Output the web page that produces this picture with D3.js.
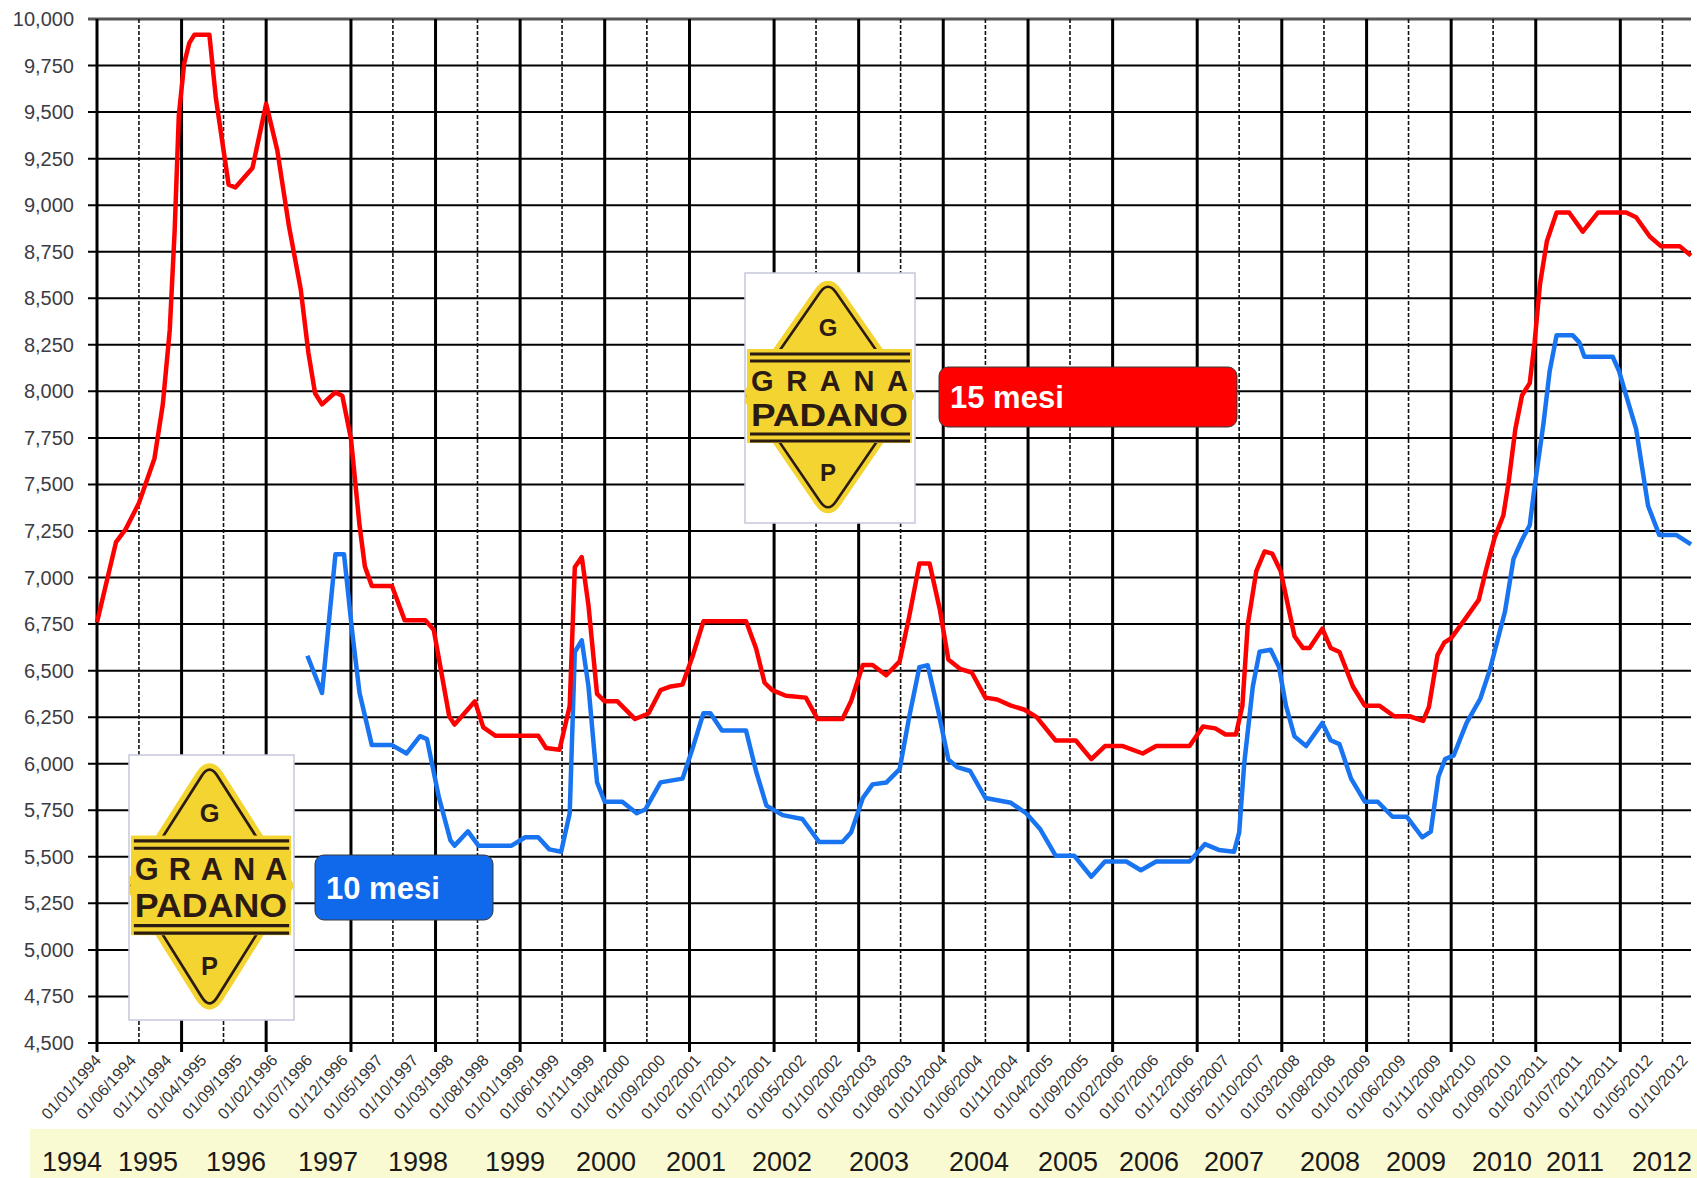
<!DOCTYPE html>
<html>
<head>
<meta charset="utf-8">
<script src="https://cdn.jsdelivr.net/npm/d3@7"></script>
<style>
  body { margin: 0; background: #fff; }
  svg { display: block; font-family: Arial, "Liberation Sans", sans-serif; }
</style>
</head>
<body>
<svg id="chart" width="1697" height="1178"></svg>
<script>
// prezzi Grana Padano, 15 mesi (rosso)
var redDates = ["1994-01-01","1994-03-24","1994-05-05","1994-07-01","1994-09-06","1994-10-12","1994-11-11","1994-12-02","1994-12-20",
  "1995-01-12","1995-02-03","1995-02-25","1995-05-01","1995-05-29","1995-07-23","1995-08-21","1995-11-03",
  "1996-01-01","1996-02-18","1996-04-08","1996-05-29","1996-07-01","1996-07-30","1996-08-29","1996-10-26","1996-11-25",
  "1997-01-01","1997-02-07","1997-03-02","1997-04-01","1997-06-27","1997-08-21","1997-11-18","1997-12-24",
  "1998-03-01","1998-03-24","1998-06-20","1998-07-26","1998-09-17",
  "1999-03-20","1999-04-23","1999-06-20","1999-08-03","1999-08-25","1999-09-24","1999-10-23","1999-11-29",
  "2000-01-01","2000-02-25","2000-05-11","2000-07-08","2000-08-29","2000-10-12","2000-12-02",
  "2001-01-15","2001-03-02","2001-09-02","2001-10-15","2001-11-21","2001-12-24",
  "2002-02-21","2002-05-18","2002-07-08","2002-10-23","2002-11-29",
  "2003-01-19","2003-03-02","2003-04-30","2003-06-27","2003-08-07","2003-09-20","2003-11-03","2003-12-17",
  "2004-01-23","2004-03-13","2004-05-03","2004-07-01","2004-08-21","2004-10-19","2004-12-17",
  "2005-02-07","2005-04-30","2005-07-26","2005-10-01","2005-11-29",
  "2006-02-14","2006-05-11","2006-07-08","2006-11-29",
  "2007-01-26","2007-03-20","2007-05-03","2007-06-17","2007-07-15","2007-08-07","2007-09-13","2007-10-19","2007-11-21","2007-12-27",
  "2008-02-25","2008-04-01","2008-04-30","2008-06-24","2008-07-30","2008-09-06","2008-11-03","2008-12-24",
  "2009-02-25","2009-04-30","2009-07-05","2009-09-02","2009-09-27","2009-11-03","2009-12-02",
  "2010-01-01","2010-03-02","2010-04-30","2010-06-02","2010-07-08","2010-08-14","2010-09-06","2010-10-05","2010-11-03","2010-12-06","2010-12-27",
  "2011-01-19","2011-02-18","2011-04-01","2011-05-25","2011-07-23","2011-09-27",
  "2012-01-26","2012-03-09","2012-05-07","2012-06-24","2012-09-13","2012-11-01"];
var redValues = [6760,7190,7260,7400,7640,7930,8330,8860,9480,
  9760,9870,9915,9915,9575,9110,9095,9200,
  9545,9295,8890,8550,8210,7990,7930,7995,7975,
  7745,7280,7060,6955,6955,6770,6770,6720,
  6255,6210,6335,6195,6150,
  6150,6085,6075,6310,7055,7110,6850,6375,
  6335,6335,6240,6270,6395,6415,6425,
  6580,6765,6765,6620,6435,6395,
  6365,6355,6240,6240,6335,
  6530,6530,6475,6550,6790,7075,7075,6830,
  6560,6510,6490,6355,6345,6312,6290,
  6250,6125,6125,6025,6095,
  6095,6055,6095,6095,
  6200,6190,6157,6157,6312,6745,7035,7140,7128,7035,
  6685,6622,6622,6725,6622,6600,6415,6312,
  6312,6255,6255,6230,6305,6583,6650,
  6675,6777,6880,7048,7216,7333,7514,7798,7979,8044,8263,
  8573,8806,8961,8961,8858,8961,
  8961,8935,8832,8780,8780,8729];

// 10 mesi (blu)
var blueDates = ["1996-06-27","1996-08-29","1996-10-26","1996-12-02",
  "1997-01-08","1997-02-07","1997-04-01","1997-06-27","1997-08-29","1997-10-26","1997-11-25",
  "1998-01-15","1998-03-06","1998-03-24","1998-05-21","1998-07-05","1998-11-25",
  "1999-01-23","1999-03-20","1999-05-07","1999-06-27","1999-08-03","1999-08-25","1999-09-24","1999-10-23","1999-11-29",
  "2000-01-01","2000-03-17","2000-05-18","2000-06-24","2000-08-29","2000-12-02",
  "2001-01-15","2001-03-02","2001-04-01","2001-05-21","2001-09-02","2001-10-15","2001-11-29",
  "2002-02-07","2002-05-03","2002-07-15","2002-10-23","2002-11-29",
  "2003-01-19","2003-03-02","2003-04-30","2003-06-27","2003-08-07","2003-09-20","2003-10-26","2003-12-09",
  "2004-01-23","2004-03-01","2004-04-26","2004-07-01","2004-10-19","2004-12-24",
  "2005-02-21","2005-04-30","2005-07-19","2005-10-01","2005-11-29",
  "2006-03-01","2006-05-03","2006-07-08","2006-11-29",
  "2007-02-03","2007-04-04","2007-06-09","2007-07-01","2007-07-23","2007-08-29","2007-09-27","2007-11-14","2007-12-20",
  "2008-01-19","2008-02-25","2008-04-15","2008-06-24","2008-07-30","2008-09-06","2008-10-26","2008-12-24",
  "2009-02-18","2009-04-23","2009-06-24","2009-08-29","2009-10-05","2009-11-07","2009-12-06",
  "2010-01-12","2010-03-09","2010-05-07","2010-06-17","2010-08-21","2010-09-27","2010-11-03","2010-12-06","2010-12-27",
  "2011-02-03","2011-03-02","2011-04-01","2011-06-09","2011-07-08","2011-07-30","2011-11-29","2011-12-27",
  "2012-01-26","2012-03-09","2012-04-30","2012-06-17","2012-08-29","2012-11-01"];
var blueValues = [6580,6380,7125,7125,
  6690,6380,6100,6100,6055,6148,6132,
  5822,5590,5560,5637,5560,5560,
  5605,5605,5540,5527,5734,6600,6663,6415,5900,
  5796,5796,5734,5754,5900,5920,
  6085,6271,6271,6178,6178,5961,5775,
  5724,5703,5579,5579,5630,
  5816,5889,5899,5971,6250,6519,6529,6291,
  6023,5982,5961,5816,5790,5734,
  5651,5506,5506,5393,5475,
  5475,5428,5475,5475,
  5568,5537,5527,5630,6002,6415,6601,6612,6519,
  6312,6147,6095,6219,6126,6105,5920,5796,
  5796,5715,5715,5605,5635,5930,6025,
  6045,6221,6350,6505,6816,7100,7203,7281,7488,
  7824,8108,8302,8302,8263,8186,8186,8108,
  7979,7798,7384,7229,7229,7178];

var yTicks = d3.range(4500, 10001, 250);
var labelStepMonths = 5;
var yearLabels = ["1994","1995","1996","1997","1998","1999","2000","2001","2002","2003",
  "2004","2005","2006","2007","2008","2009","2010","2011","2012"];
// testo della fascia gialla, posizionato a mano come nell'originale
var yearLabelPos = [72,148,236,328,418,515,606,696,782,879,979,1068,1149,1234,1330,1416,1502,1575,1662];
// anni senza la linea tratteggiata di luglio
var noDashYears = [1996, 2001, 2006, 2011];

var parse = d3.timeParse("%Y-%m-%d");
var fmtTick = d3.timeFormat("%d/%m/%Y");

var svg = d3.select("#chart");
var plotL = 97, plotR = 1691, plotT = 19, plotB = 1043;

var x = d3.scaleTime()
  .domain([parse("1994-01-01"), parse("2012-11-01")])
  .range([plotL, plotR]);
var y = d3.scaleLinear()
  .domain([4500, 10000])
  .range([plotB, plotT]);

// fascia anni
svg.append("rect")
  .attr("x", 30).attr("y", 1129)
  .attr("width", 1667).attr("height", 49)
  .attr("fill", "#fafad2");

var grid = svg.append("g");

// linee orizzontali
grid.selectAll("line.h")
  .data(yTicks)
  .enter().append("line")
  .attr("x1", plotL - 9).attr("x2", plotR)
  .attr("y1", function(d) { return y(d); })
  .attr("y2", function(d) { return y(d); })
  .attr("stroke", function(d) { return d == 10000 ? "#555" : "#000"; })
  .attr("stroke-width", function(d) { return d == 10000 ? 3 : 2; });

// linee verticali: gennaio piene, luglio tratteggiate
var years = d3.range(1994, 2013);
grid.selectAll("line.dash")
  .data(years.filter(function(yr) { return noDashYears.indexOf(yr) == -1; }))
  .enter().append("line")
  .attr("x1", function(d) { return x(new Date(d, 6, 1)); })
  .attr("x2", function(d) { return x(new Date(d, 6, 1)); })
  .attr("y1", plotT).attr("y2", plotB)
  .attr("stroke", "#111")
  .attr("stroke-width", 1.6)
  .attr("stroke-dasharray", "4,2");

grid.selectAll("line.solid")
  .data(years)
  .enter().append("line")
  .attr("x1", function(d) { return x(new Date(d, 0, 1)); })
  .attr("x2", function(d) { return x(new Date(d, 0, 1)); })
  .attr("y1", plotT).attr("y2", plotB + 9)
  .attr("stroke", "#000")
  .attr("stroke-width", 3);

// asse y
svg.append("g").selectAll("text")
  .data(yTicks)
  .enter().append("text")
  .attr("x", 74)
  .attr("y", function(d) { return y(d) + 7; })
  .attr("text-anchor", "end")
  .attr("font-size", 20)
  .attr("fill", "#3c3c44")
  .text(d3.format(","));

// etichette date ogni 5 mesi
var start = parse("1994-01-01");
var tickDates = d3.range(0, 226, labelStepMonths).map(function(m) { return d3.timeMonth.offset(start, m); });
svg.append("g").selectAll("text")
  .data(tickDates)
  .enter().append("text")
  .attr("transform", function(d) { return "translate(" + (x(d) + 5) + "," + 1061 + ") rotate(-48)"; })
  .attr("text-anchor", "end")
  .attr("font-size", 16)
  .attr("fill", "#333")
  .text(fmtTick);

// anni
svg.append("g").selectAll("text")
  .data(yearLabels)
  .enter().append("text")
  .attr("x", function(d, i) { return yearLabelPos[i]; })
  .attr("y", 1171)
  .attr("text-anchor", "middle")
  .attr("font-size", 27)
  .attr("fill", "#1a1a1a")
  .text(function(d) { return d; });

// serie
function toPoints(dates, values) {
  return dates.map(function(d, i) { return { date: parse(d), value: values[i] }; });
}
var line = d3.line()
  .x(function(d) { return x(d.date); })
  .y(function(d) { return y(d.value); });

svg.append("path")
  .datum(toPoints(blueDates, blueValues))
  .attr("d", line)
  .attr("fill", "none")
  .attr("stroke", "#1874f0")
  .attr("stroke-width", 4.5)
  .attr("stroke-linejoin", "round");

svg.append("path")
  .datum(toPoints(redDates, redValues))
  .attr("d", line)
  .attr("fill", "none")
  .attr("stroke", "#ff0000")
  .attr("stroke-width", 4.5)
  .attr("stroke-linejoin", "round");

// logo Grana Padano
function drawLogo(bx, by, bw, bh, id) {
  var sx = bw / 170, sy = bh / 250;
  var g = svg.append("g");
  g.append("rect")
    .attr("x", bx).attr("y", by).attr("width", bw).attr("height", bh)
    .attr("fill", "#fff").attr("stroke", "#c6c8dc").attr("stroke-width", 1.5);
  svg.append("clipPath").attr("id", id)
    .append("rect").attr("x", bx).attr("y", by).attr("width", bw).attr("height", bh);
  var lg = g.append("g").attr("clip-path", "url(#" + id + ")");
  function px(v) { return bx + v * sx; }
  function py(v) { return by + v * sy; }
  var cx = 83, r = 14;
  // rombo con punte arrotondate
  var topY = 8, botY = 240, midY = 123, lx = 3, rx = 163;
  var ux = (cx - lx), uy = (midY - topY), ulen = Math.sqrt(ux * ux + uy * uy);
  var dx = ux / ulen * r, dy = uy / ulen * r;
  var by2 = botY - midY, blen = Math.sqrt(ux * ux + by2 * by2);
  var ex = ux / blen * r, ey = by2 / blen * r;
  var p = d3.path();
  p.moveTo(px(lx), py(midY));
  p.lineTo(px(cx - dx), py(topY + dy));
  p.quadraticCurveTo(px(cx), py(topY), px(cx + dx), py(topY + dy));
  p.lineTo(px(rx), py(midY));
  p.lineTo(px(cx + ex), py(botY - ey));
  p.quadraticCurveTo(px(cx), py(botY), px(cx - ex), py(botY - ey));
  p.closePath();
  lg.append("path").attr("d", p.toString())
    .attr("fill", "#f4d431").attr("stroke", "#f4d431")
    .attr("stroke-width", 12 * sy).attr("stroke-linejoin", "round");
  lg.append("path").attr("d", p.toString())
    .attr("fill", "none").attr("stroke", "#2b1b12")
    .attr("stroke-width", 2.6 * sy);
  // fascia centrale
  lg.append("rect")
    .attr("x", px(2)).attr("y", py(76))
    .attr("width", 165 * sx).attr("height", 94 * sy)
    .attr("fill", "#f4d431");
  [81, 88, 161, 168].forEach(function(v) {
    lg.append("line")
      .attr("x1", px(5)).attr("x2", px(165))
      .attr("y1", py(v)).attr("y2", py(v))
      .attr("stroke", "#2b1b12").attr("stroke-width", 3 * sy);
  });
  lg.append("text").attr("x", px(6)).attr("y", py(118))
    .attr("font-size", 29 * sy).attr("font-weight", 900).attr("fill", "#2b1b12")
    .attr("textLength", 157 * sx).attr("lengthAdjust", "spacing")
    .text("GRANA");
  lg.append("text").attr("x", px(6)).attr("y", py(153))
    .attr("font-size", 31 * sy).attr("font-weight", 900).attr("fill", "#2b1b12")
    .attr("textLength", 157 * sx).attr("lengthAdjust", "spacingAndGlyphs")
    .text("PADANO");
  lg.append("text").attr("x", px(cx)).attr("y", py(63))
    .attr("text-anchor", "middle")
    .attr("font-size", 24 * sy).attr("font-weight", 900).attr("fill", "#2b1b12")
    .text("G");
  lg.append("text").attr("x", px(cx)).attr("y", py(208))
    .attr("text-anchor", "middle")
    .attr("font-size", 24 * sy).attr("font-weight", 900).attr("fill", "#2b1b12")
    .text("P");
}
drawLogo(745, 273, 170, 250, "clipLogo1");
drawLogo(129, 755, 165, 265, "clipLogo2");

// etichette delle serie
function drawLabel(bx, by, bw, bh, color, label) {
  svg.append("rect")
    .attr("x", bx).attr("y", by).attr("width", bw).attr("height", bh)
    .attr("rx", 9)
    .attr("fill", color).attr("stroke", "#3a3a3a").attr("stroke-width", 1);
  svg.append("text")
    .attr("x", bx + 11).attr("y", by + bh / 2 + 11)
    .attr("font-size", 31).attr("font-weight", "bold")
    .attr("fill", "#fff")
    .text(label);
}
drawLabel(939, 367, 298, 60, "#ff0000", "15 mesi");
drawLabel(315, 855, 178, 65, "#1068ea", "10 mesi");
</script>
</body>
</html>
